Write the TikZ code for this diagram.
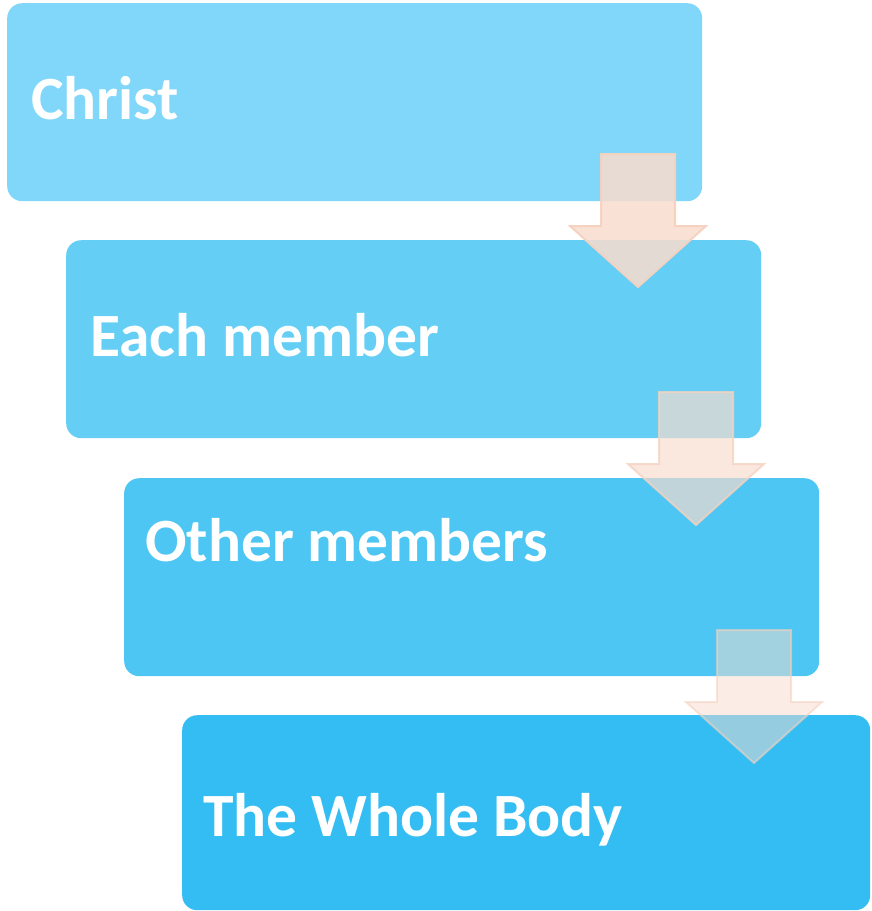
\documentclass[tikz,border=0pt]{standalone}
\usepackage{fontspec}
\setmainfont{Carlito}
\definecolor{boxA}{HTML}{81D7F9}
\definecolor{boxB}{HTML}{65CEF5}
\definecolor{boxC}{HTML}{4DC6F3}
\definecolor{boxD}{HTML}{33BDF2}
\definecolor{peach}{HTML}{F8DCCE}
\definecolor{peachline}{HTML}{F5D2C0}
\begin{document}
\begin{tikzpicture}[x=1pt,y=-1pt,
  box/.style={rectangle, rounded corners=15pt, draw=none, minimum width=695pt, minimum height=198pt, inner sep=0pt, anchor=north west},
  label/.style={anchor=base west, inner sep=0pt, text=white, font=\fontsize{61.5}{72}\selectfont\bfseries},
  blockarrow/.style={fill=peach, draw=peachline, line width=2pt, line join=miter}]
\useasboundingbox (0,0) rectangle (871,911);
\node[box, fill=boxA] (b1) at (7,3) {};
\node[box, fill=boxB] (b2) at (66,240) {};
\node[box, fill=boxC] (b3) at (124,478) {};
\node[box, fill=boxD, minimum width=688pt, minimum height=195pt] (b4) at (182,715) {};
\node[label] (t1) at (31,119) {Christ};
\node[label] (t2) at (90,356) {Each member};
\node[label] (t3) at (145,561) {Other members};
\node[label] (t4) at (203,836) {The Whole Body};
% block arrows
\foreach \dx/\dy/\op in {0/0/0.86, 58/238/0.68, 116/476/0.5}{
  \begin{scope}[shift={(\dx,\dy)}]
    \path[blockarrow, fill opacity=\op, draw opacity={\op+0.1}]
      (601,154) -- (675,154) -- (675,226) -- (706,226) -- (638,287)
      -- (570,226) -- (601,226) -- cycle;
  \end{scope}
}
\end{tikzpicture}
\end{document}
